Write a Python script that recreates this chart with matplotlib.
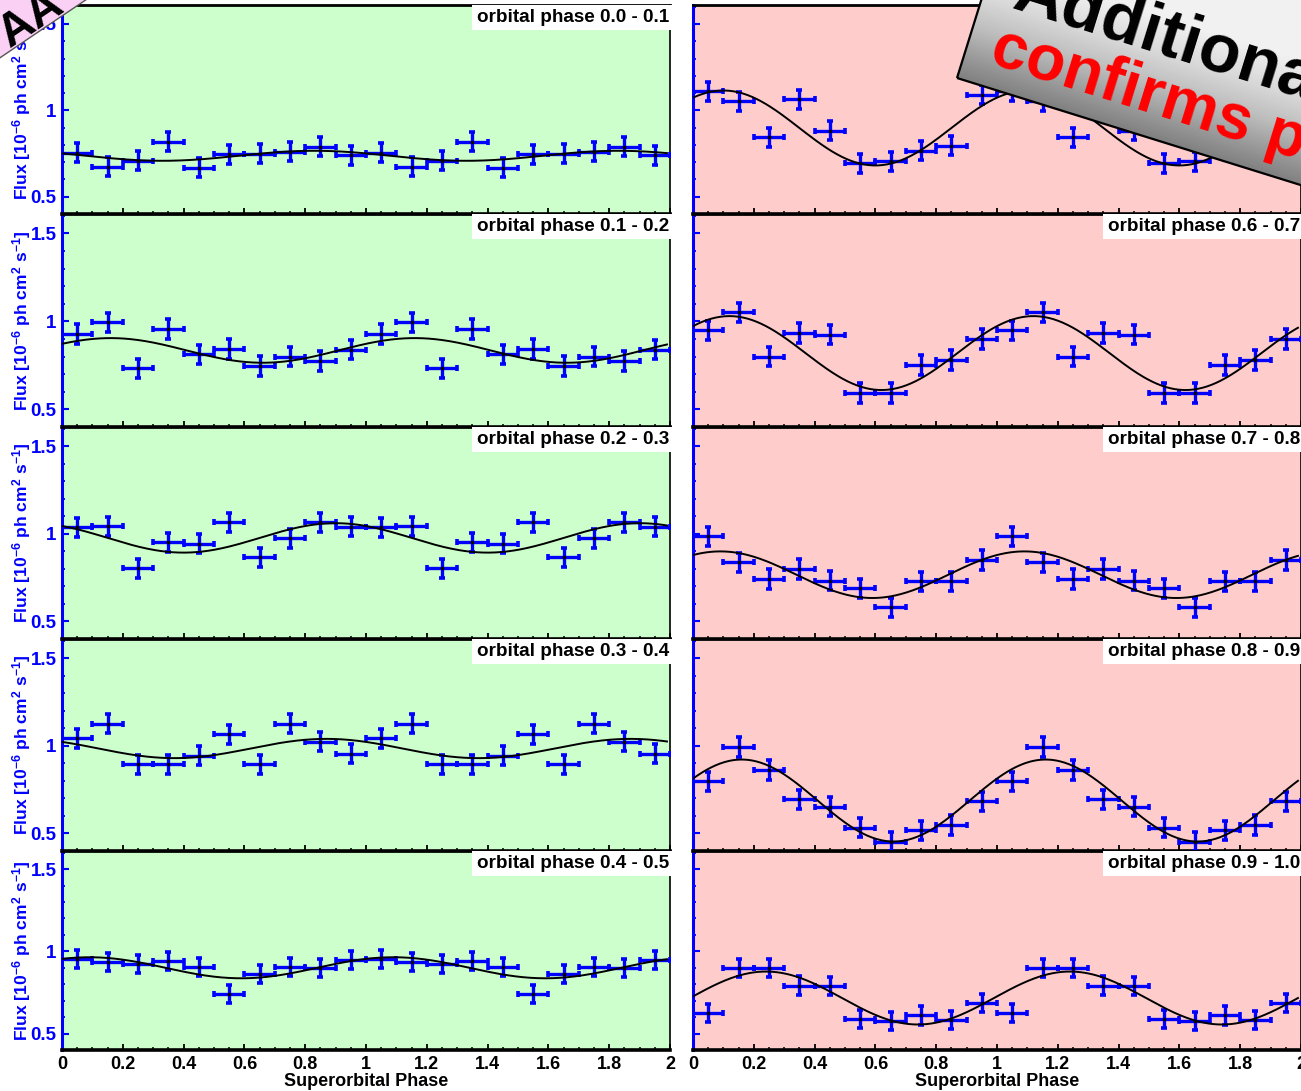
import numpy as np
import matplotlib.pyplot as plt
from matplotlib.patches import Polygon
from matplotlib.ticker import MultipleLocator, FuncFormatter

plt.rcParams['font.family'] = ['Liberation Sans', 'DejaVu Sans']
plt.rcParams['font.weight'] = 'bold'
plt.rcParams['mathtext.fontset'] = 'custom'
plt.rcParams['mathtext.rm'] = 'Liberation Sans:bold'
plt.rcParams['mathtext.default'] = 'rm'

# superorbital phase bins (one cycle, plotted twice)
phase_bins = [0.05, 0.15, 0.25, 0.35, 0.45, 0.55, 0.65, 0.75, 0.85, 0.95]
phase_halfwidth = 0.05
flux_err = 0.055

# flux per orbital phase slice [1e-6 ph cm^-2 s^-1]
flux_00_01 = [0.756, 0.673, 0.708, 0.817, 0.667, 0.746, 0.750, 0.760, 0.788, 0.740]
flux_01_02 = [0.929, 0.994, 0.733, 0.956, 0.813, 0.844, 0.746, 0.800, 0.775, 0.840]
flux_02_03 = [1.038, 1.044, 0.804, 0.952, 0.945, 1.067, 0.867, 0.975, 1.067, 1.042]
flux_03_04 = [1.044, 1.127, 0.895, 0.895, 0.943, 1.067, 0.894, 1.127, 1.023, 0.956]
flux_04_05 = [0.952, 0.936, 0.922, 0.940, 0.905, 0.738, 0.863, 0.905, 0.900, 0.950]
flux_05_06 = [1.111, 1.053, 0.844, 1.063, 0.882, 0.695, 0.704, 0.765, 0.796, 1.090]
flux_06_07 = [0.949, 1.051, 0.800, 0.933, 0.924, 0.594, 0.594, 0.752, 0.781, 0.900]
flux_07_08 = [0.987, 0.838, 0.743, 0.800, 0.733, 0.690, 0.581, 0.730, 0.730, 0.851]
flux_08_09 = [0.797, 0.994, 0.863, 0.696, 0.652, 0.534, 0.454, 0.519, 0.549, 0.683]
flux_09_10 = [0.626, 0.897, 0.897, 0.792, 0.788, 0.590, 0.574, 0.610, 0.580, 0.687]

# sine fit: mean + amp * cos(2 pi (phase - peak))
fit_mean = [0.737, 0.835, 0.977, 0.985, 0.900, 0.898, 0.820, 0.767, 0.688, 0.716]
fit_amp = [0.029, 0.070, 0.084, 0.055, 0.064, 0.217, 0.210, 0.133, 0.234, 0.161]
fit_peak = [0.83, 0.16, 0.90, 0.87, 0.09, 0.10, 0.12, 0.09, 0.16, 0.24]

orb_lo = [0.0, 0.1, 0.2, 0.3, 0.4, 0.5, 0.6, 0.7, 0.8, 0.9]
orb_hi = [0.1, 0.2, 0.3, 0.4, 0.5, 0.6, 0.7, 0.8, 0.9, 1.0]
fluxes = [flux_00_01, flux_01_02, flux_02_03, flux_03_04, flux_04_05,
          flux_05_06, flux_06_07, flux_07_08, flux_08_09, flux_09_10]

W, H = 1301, 1091
fig = plt.figure(figsize=(W / 100, H / 100), dpi=100)

col_l = [62, 693]
col_r = [670, 1301]
row_t = [5, 214, 427, 639, 851]
row_b = [214, 427, 639, 851, 1050]
bg = ['#ccffcc', '#ffcccc']

fmt = FuncFormatter(lambda v, p: '%g' % round(v, 2))
xph = np.concatenate([np.array(phase_bins), np.array(phase_bins) + 1])
xfit = np.linspace(0, 1.99, 400)

for k in range(10):
    c, r = k // 5, k % 5
    ax = fig.add_axes([col_l[c] / W, 1 - row_b[r] / H,
                       (col_r[c] - col_l[c]) / W, (row_b[r] - row_t[r]) / H])
    ax.set_facecolor(bg[c])
    y = np.concatenate([fluxes[k], fluxes[k]])
    ax.errorbar(xph, y, xerr=phase_halfwidth, yerr=flux_err, fmt='o', ms=1.6,
                mfc='k', mec='k', ecolor='#0000ff', elinewidth=2.4,
                capsize=2.4, capthick=2.6, zorder=3)
    yfit = fit_mean[k] + fit_amp[k] * np.cos(2 * np.pi * (xfit - fit_peak[k]))
    ax.plot(xfit, yfit, color='k', lw=1.4, zorder=4)
    ax.set_xlim(0, 2)
    ax.set_ylim(0.4, 1.61)

    ax.xaxis.set_major_locator(MultipleLocator(0.2))
    ax.xaxis.set_minor_locator(MultipleLocator(0.05))
    ax.yaxis.set_major_locator(MultipleLocator(0.5))
    ax.yaxis.set_minor_locator(MultipleLocator(0.1))
    ax.xaxis.set_major_formatter(fmt)
    ax.yaxis.set_major_formatter(fmt)
    ax.tick_params(axis='x', which='both', direction='in', top=False,
                   color='k', labelsize=13, pad=4)
    ax.tick_params(axis='x', which='major', length=4, width=1.3)
    ax.tick_params(axis='x', which='minor', length=2.5, width=1.1)
    ax.tick_params(axis='y', which='both', direction='in', right=False,
                   color='#0000ff', labelcolor='#0000ff', labelsize=13.5, pad=4)
    ax.tick_params(axis='y', which='major', length=5, width=1.5)
    ax.tick_params(axis='y', which='minor', length=2.5, width=1.3)
    if r != 4:
        ax.tick_params(axis='x', labelbottom=False)
    else:
        ax.set_xlabel('Superorbital Phase', fontsize=13, fontweight='bold', labelpad=0)
    if c == 1:
        ax.tick_params(axis='y', labelleft=False)
    else:
        ax.set_ylabel(r'Flux [10$^{-6}$ ph cm$^{2}$ s$^{-1}$]', color='#0000ff',
                      fontsize=12.6, fontweight='bold')
        ax.yaxis.set_label_coords(-0.048, 0.5)

    ax.spines['left'].set_color('#0000ff')
    ax.spines['left'].set_linewidth(2.2)
    ax.spines['bottom'].set_linewidth(2.6)
    ax.spines['top'].set_linewidth(2.0)
    ax.spines['right'].set_linewidth(1.2)

    ax.text(0.998, 0.98, 'orbital phase %.1f - %.1f' % (orb_lo[k], orb_hi[k]),
            transform=ax.transAxes, ha='right', va='top', fontsize=13.6,
            fontweight='bold', zorder=6,
            bbox=dict(boxstyle='square,pad=0.22', fc='white', ec='none'))

# overlay in pixel coordinates for the slide banners
ov = fig.add_axes([0, 0, 1, 1], zorder=10)
ov.set_xlim(0, W)
ov.set_ylim(H, 0)
ov.axis('off')
ov.patch.set_alpha(0)

# grey banner, top right
ang = np.deg2rad(17.3)
u = np.array([np.cos(ang), np.sin(ang)])
v = np.array([np.sin(ang), -np.cos(ang)])
bl = np.array([957.0, 78.0])
corners = [bl, bl + 600 * u, bl + 600 * u + 260 * v, bl + 260 * v]
banner = Polygon(corners, closed=True, fc='none', ec='k', lw=1.6, zorder=3)
ov.add_patch(banner)
gx, gy = np.meshgrid(np.arange(900, W + 1), np.arange(0, 260))
s = (gx - bl[0]) * v[0] + (gy - bl[1]) * v[1]
shade = np.clip(s / 120.0, 0, 1)
img = ov.imshow(shade, extent=(900, W + 1, 260, 0), cmap='Greys_r', vmin=-0.9,
                vmax=1.25, zorder=2, interpolation='bilinear')
clip = Polygon(corners, closed=True, transform=ov.transData)
img.set_clip_path(clip)

ov.text(1010, 8, 'Additional', rotation=-17.3, rotation_mode='anchor',
        fontsize=49, fontweight='bold', color='k', ha='left', va='baseline', zorder=4)
ov.text(988, 63, 'confirms p', rotation=-17.3, rotation_mode='anchor',
        fontsize=46, fontweight='bold', color='#ff0000', ha='left', va='baseline', zorder=4)

# pink banner, top left
a2 = np.deg2rad(34)
u2 = np.array([np.cos(a2), -np.sin(a2)])
v2 = np.array([-np.sin(a2), -np.cos(a2)])
p0 = np.array([-30.0, 78.0])
pc = [p0, p0 + 200 * u2, p0 + 200 * u2 + 120 * v2, p0 + 120 * v2]
ov.add_patch(Polygon(pc, closed=True, fc='#fbd0f5', ec='#555555', lw=1.0, zorder=3))
ov.text(10, 48, 'AA', rotation=34, rotation_mode='anchor', fontsize=34,
        fontweight='bold', color='k', ha='left', va='baseline', zorder=4)

fig.savefig('out.png', dpi=100)
